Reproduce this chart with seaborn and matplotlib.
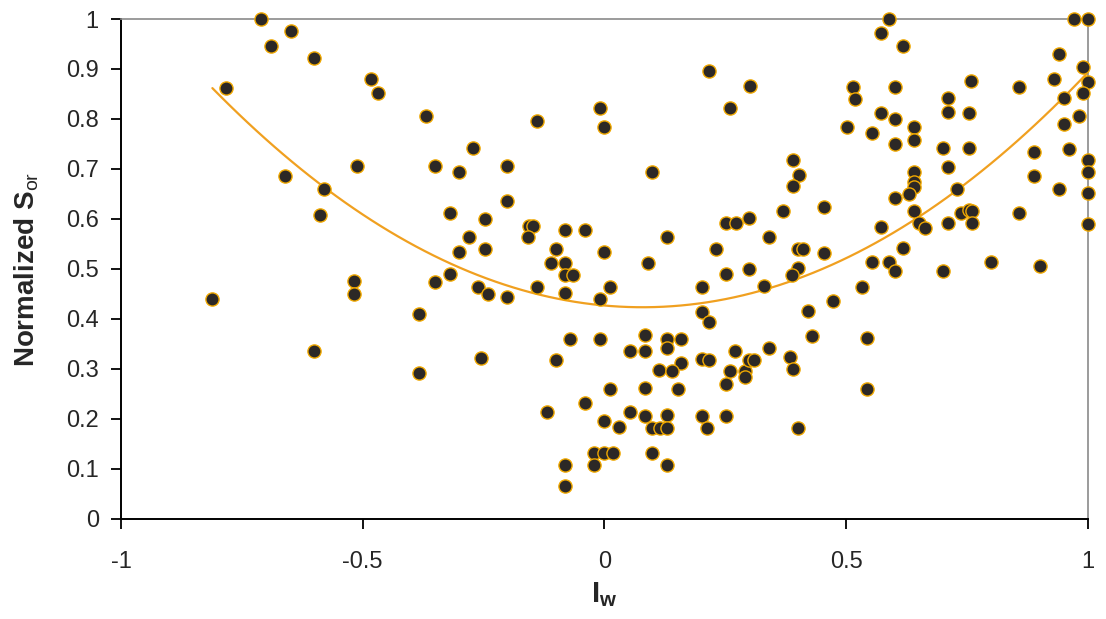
import matplotlib
matplotlib.use("Agg")
import matplotlib.pyplot as plt
import seaborn as sns
import pandas as pd

# valores
iw = [-0.711, -0.689, -0.649, -0.600, -0.782, -0.482, -0.469, -0.370, -0.271, -0.511,
      -0.350, -0.300, -0.660, -0.581, -0.589, -0.319, -0.281, -0.300, -0.319, -0.350,
      -0.261, -0.519, -0.519, -0.811, -0.383, -0.600, -0.383, -0.256,
      -0.010, 0.000, 0.259, -0.139, -0.201, 0.099, -0.201, -0.248, -0.157, -0.147,
      -0.159, -0.081, -0.041, 0.130, 0.252, 0.273, 0.298, -0.248, -0.101, 0.000,
      0.230, -0.110, -0.081, 0.089, -0.081, -0.066, 0.252, 0.298, -0.240, -0.201,
      -0.139, -0.081, 0.012, -0.010, 0.201, 0.201, 0.217,
      -0.072, -0.010, 0.083, 0.130, 0.159, 0.052, 0.083, 0.130, -0.101, 0.201,
      0.217, 0.159, 0.112, 0.139, 0.269, 0.259, 0.290, 0.290, 0.298, 0.252,
      0.012, 0.083, 0.153, -0.041, -0.118, 0.052, 0.083, 0.130, 0.201, 0.252,
      0.000, 0.031, 0.099, 0.114, 0.130, 0.213, -0.021, 0.000, 0.017, 0.099,
      -0.081, -0.021, 0.130, -0.081,
      0.589, 0.571, 0.618, 0.972, 1.000, 0.941, 0.989, 1.000, 0.989, 0.929,
      0.951, 0.982, 0.951, 0.960, 1.000, 1.000, 1.000, 1.000, 0.941, 0.858,
      0.889, 0.889, 0.858, 0.900, 0.800, 0.759, 0.711, 0.711, 0.753, 0.701,
      0.753, 0.711, 0.730, 0.738, 0.753, 0.761, 0.761, 0.711, 0.701, 0.641,
      0.641, 0.600, 0.600, 0.571, 0.600, 0.513, 0.519, 0.501, 0.554, 0.641,
      0.641, 0.641, 0.629, 0.600, 0.641, 0.651, 0.662, 0.571, 0.618, 0.554,
      0.589, 0.600, 0.532, 0.472, 0.389, 0.403, 0.389, 0.370, 0.453, 0.341,
      0.401, 0.410, 0.453, 0.401, 0.387, 0.329, 0.217, 0.300, 0.420, 0.430,
      0.542, 0.341, 0.310, 0.383, 0.389, 0.542, 0.401]
sor = [1.000, 0.946, 0.976, 0.922, 0.862, 0.880, 0.852, 0.806, 0.742, 0.706,
       0.706, 0.694, 0.686, 0.660, 0.608, 0.612, 0.564, 0.534, 0.490, 0.474,
       0.464, 0.476, 0.450, 0.440, 0.410, 0.336, 0.292, 0.322,
       0.822, 0.784, 0.822, 0.796, 0.706, 0.694, 0.636, 0.600, 0.586, 0.586,
       0.564, 0.578, 0.578, 0.564, 0.592, 0.592, 0.602, 0.540, 0.540, 0.534,
       0.540, 0.512, 0.512, 0.512, 0.488, 0.488, 0.490, 0.500, 0.450, 0.444,
       0.464, 0.452, 0.464, 0.440, 0.464, 0.414, 0.394,
       0.360, 0.360, 0.368, 0.360, 0.360, 0.336, 0.336, 0.342, 0.318, 0.320,
       0.318, 0.312, 0.298, 0.296, 0.336, 0.296, 0.296, 0.284, 0.318, 0.270,
       0.260, 0.262, 0.260, 0.232, 0.214, 0.214, 0.206, 0.208, 0.206, 0.206,
       0.196, 0.184, 0.182, 0.182, 0.182, 0.182, 0.132, 0.132, 0.132, 0.132,
       0.108, 0.108, 0.108, 0.066,
       1.000, 0.972, 0.946, 1.000, 1.000, 0.930, 0.904, 0.874, 0.852, 0.880,
       0.842, 0.806, 0.790, 0.740, 0.718, 0.694, 0.652, 0.590, 0.660, 0.864,
       0.734, 0.686, 0.612, 0.506, 0.514, 0.876, 0.842, 0.814, 0.812, 0.742,
       0.742, 0.704, 0.660, 0.612, 0.618, 0.616, 0.592, 0.592, 0.496, 0.784,
       0.758, 0.750, 0.800, 0.812, 0.864, 0.864, 0.840, 0.784, 0.772, 0.694,
       0.674, 0.664, 0.650, 0.642, 0.616, 0.592, 0.582, 0.584, 0.542, 0.514,
       0.514, 0.496, 0.464, 0.436, 0.718, 0.688, 0.666, 0.616, 0.624, 0.564,
       0.540, 0.540, 0.532, 0.502, 0.488, 0.466, 0.896, 0.866, 0.416, 0.366,
       0.362, 0.342, 0.318, 0.324, 0.300, 0.260, 0.182]

xticks = [-1, -0.5, 0, 0.5, 1]
xtick_labels = ['-1', '-0.5', '0', '0.5', '1']
yticks = [0, 0.1, 0.2, 0.3, 0.4, 0.5, 0.6, 0.7, 0.8, 0.9, 1]
ytick_labels = ['0', '0.1', '0.2', '0.3', '0.4', '0.5', '0.6', '0.7', '0.8', '0.9', '1']

df = pd.DataFrame({'iw': iw, 'sor': sor})

sns.set_style('white')
plt.rcParams['font.family'] = ['Liberation Sans', 'DejaVu Sans']
plt.rcParams['mathtext.fontset'] = 'custom'
plt.rcParams['mathtext.rm'] = 'Liberation Sans'
plt.rcParams['mathtext.bf'] = 'Liberation Sans:bold'

fig = plt.figure(figsize=(11.06, 6.19), dpi=100)
ax = fig.add_axes([0.1094, 0.1616, 0.8743, 0.8077])

# linha de tendencia polinomial (ordem 2)
sns.regplot(data=df, x='iw', y='sor', order=2, scatter=False, ci=None, truncate=True,
            line_kws={'color': '#f0a020', 'linewidth': 1.6, 'zorder': 2}, ax=ax)

sns.scatterplot(data=df, x='iw', y='sor', s=90, color='#2c2826', edgecolor='#f0a800',
                linewidth=1.0, marker='o', clip_on=False, zorder=3, ax=ax)

ax.set_xlim(-1, 1)
ax.set_ylim(0, 1)
ax.set_xticks(xticks)
ax.set_xticklabels(xtick_labels)
ax.set_yticks(yticks)
ax.set_yticklabels(ytick_labels)
ax.tick_params(axis='both', direction='out', length=7, width=1.3, color='black',
               labelsize=17, bottom=True, left=True)
ax.tick_params(axis='x', pad=16)
ax.tick_params(axis='y', pad=9)

for side in ['left', 'bottom']:
    ax.spines[side].set_color('black')
    ax.spines[side].set_linewidth(1.4)
for side in ['top', 'right']:
    ax.spines[side].set_color('#8a8a8a')
    ax.spines[side].set_linewidth(1.2)

ax.set_xlabel(r'$\mathbf{I}_{\mathbf{w}}$', fontsize=21, labelpad=5)
ax.set_ylabel(r'Normalized S$_{\mathrm{or}}$', fontsize=20, fontweight='bold', labelpad=18)

fig.savefig('out.png', dpi=100)
